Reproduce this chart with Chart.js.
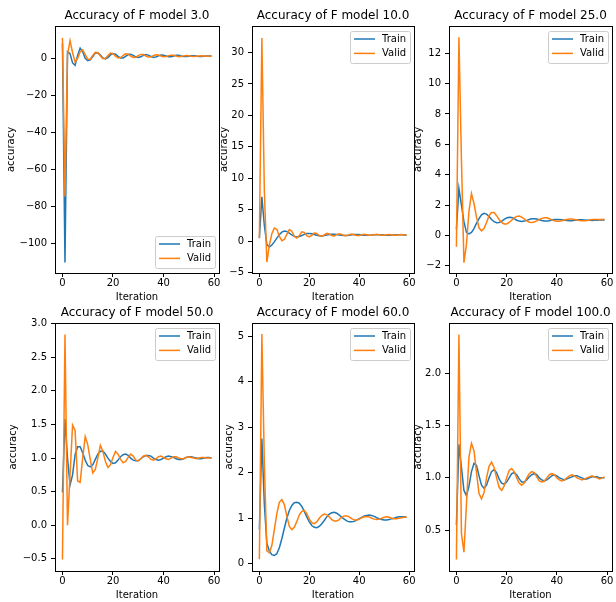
<!DOCTYPE html>
<html>
<head>
<meta charset="utf-8">
<script src="https://cdn.jsdelivr.net/npm/chart.js@4.4.1/dist/chart.umd.min.js"></script>
<style>
  html, body { margin: 0; padding: 0; background: #fff; }
  body { width: 616px; height: 602px; position: relative; overflow: hidden; }
  canvas { position: absolute; }
</style>
</head>
<body>
<script>
// Valores dos modelos e eixos
const models = ['3.0', '10.0', '25.0', '50.0', '60.0', '100.0'];
const iterations = Array.from({ length: 60 }, (_, i) => i);
const xTicks = [0, 20, 40, 60];

// Séries (Train / Valid)
const train3 = [8, -110, 3.5, 2.5, -2.5, -3.8, 1.5, 5.5, 3.5, 0,
  -1.3, -0.8, 1, 2.8, 3, 1.8, 0.2, -0.3, 0.4, 1.8,
  2.6, 2.2, 1.0, 0.2, 0.2, 1.0, 2.0, 2.2, 1.6, 0.7,
  0.4, 0.8, 1.6, 2.0, 1.7, 1.0, 0.6, 0.7, 1.3, 1.8,
  1.7, 1.2, 0.8, 0.8, 1.2, 1.6, 1.6, 1.2, 0.9, 0.9,
  1.1, 1.4, 1.4, 1.2, 0.9, 0.9, 1.1, 1.3, 1.3, 1.2];
const valid3 = [11, -74.5, 2, 9.5, 3, -2, 0, 3.5, 4.5, 2,
  -0.5, -0.5, 1.5, 3.2, 3, 1.2, -0.2, 0, 1.5, 2.8,
  2.5, 1.2, 0.2, 0.4, 1.5, 2.4, 2.2, 1.2, 0.5, 0.6,
  1.4, 2.1, 2.0, 1.2, 0.7, 0.8, 1.4, 1.9, 1.8, 1.2,
  0.8, 0.9, 1.4, 1.7, 1.6, 1.2, 0.9, 1.0, 1.3, 1.5,
  1.4, 1.1, 1.0, 1.1, 1.3, 1.4, 1.3, 1.1, 1.1, 1.2];

const train10 = [0.5, 7.05, 2.5, -0.5, -0.9, -0.6, -0.1, 0.5, 1.05, 1.45,
  1.62, 1.55, 1.3, 1.0, 0.78, 0.7, 0.76, 0.92, 1.1, 1.22,
  1.25, 1.2, 1.08, 0.95, 0.87, 0.85, 0.9, 0.98, 1.07, 1.12,
  1.13, 1.08, 1.01, 0.94, 0.91, 0.92, 0.96, 1.02, 1.06, 1.08,
  1.06, 1.01, 0.97, 0.94, 0.95, 0.98, 1.02, 1.05, 1.05, 1.03,
  0.99, 0.97, 0.97, 0.98, 1.01, 1.03, 1.03, 1.02, 1.0, 0.99];
const valid10 = [0.5, 32.3, 8, -3.3, -0.6, 1.2, 2.1, 1.9, 0.8, 0.1,
  0.3, 1.1, 1.85, 1.6, 0.8, 0.5, 0.9, 1.5, 1.4, 0.9,
  0.7, 0.95, 1.3, 1.25, 0.9, 0.8, 1.0, 1.25, 1.15, 0.9,
  0.85, 1.05, 1.2, 1.1, 0.9, 0.9, 1.05, 1.15, 1.05, 0.92,
  0.93, 1.05, 1.12, 1.03, 0.94, 0.95, 1.05, 1.1, 1.02, 0.95,
  0.96, 1.04, 1.08, 1.02, 0.96, 0.97, 1.03, 1.06, 1.01, 0.98];

const train25 = [0.4, 3.1, 2.0, 0.9, 0.2, 0.1, 0.2, 0.45, 0.8, 1.1,
  1.35, 1.45, 1.4, 1.25, 1.05, 0.9, 0.84, 0.85, 0.93, 1.05,
  1.15, 1.2, 1.18, 1.1, 1.0, 0.94, 0.92, 0.94, 0.99, 1.05,
  1.09, 1.1, 1.08, 1.03, 0.98, 0.95, 0.95, 0.97, 1.01, 1.04,
  1.05, 1.05, 1.03, 1.0, 0.98, 0.97, 0.97, 0.99, 1.01, 1.03,
  1.03, 1.02, 1.0, 0.99, 0.98, 0.99, 1.0, 1.01, 1.02, 1.02];
const valid25 = [-0.75, 13.05, 5.0, -1.8, -0.6, 1.6, 2.75, 2.1, 1.2, 0.5,
  0.3, 0.45, 0.85, 1.3, 1.5, 1.5, 1.3, 1.05, 0.85, 0.75,
  0.75, 0.85, 1.0, 1.15, 1.25, 1.27, 1.2, 1.08, 0.95, 0.87,
  0.85, 0.88, 0.96, 1.05, 1.12, 1.16, 1.16, 1.1, 1.02, 0.96,
  0.93, 0.93, 0.96, 1.01, 1.05, 1.08, 1.08, 1.05, 1.01, 0.98,
  0.96, 0.96, 0.98, 1.01, 1.04, 1.05, 1.05, 1.04, 1.05, 1.06];

const train50 = [0.49, 1.58, 1.0, 0.6, 0.75, 1.05, 1.17, 1.17, 1.08, 0.97,
  0.89, 0.87, 0.9, 0.98, 1.06, 1.1, 1.1, 1.06, 1.0, 0.95,
  0.92, 0.93, 0.97, 1.02, 1.05, 1.06, 1.04, 1.0, 0.97, 0.96,
  0.96, 0.99, 1.02, 1.04, 1.04, 1.03, 1.0, 0.98, 0.97, 0.98,
  1.0, 1.02, 1.03, 1.02, 1.01, 0.99, 0.98, 0.98, 0.99, 1.01,
  1.02, 1.02, 1.01, 1.0, 0.99, 0.99, 1.0, 1.01, 1.01, 1.0];
const valid50 = [-0.51, 2.84, 0.0, 0.75, 1.49, 1.41, 0.66, 0.64, 1.0, 1.32,
  1.2, 0.98, 0.78, 0.83, 1.0, 1.19, 1.1, 0.95, 0.86, 0.9,
  1.01, 1.1, 1.06, 0.98, 0.93, 0.95, 1.01, 1.06, 1.03, 0.97,
  0.96, 0.99, 1.03, 1.04, 1.02, 0.98, 0.97, 0.99, 1.02, 1.03,
  1.01, 0.99, 0.98, 1.0, 1.02, 1.02, 1.0, 0.99, 0.99, 1.01,
  1.02, 1.01, 1.0, 0.99, 1.0, 1.01, 1.01, 1.0, 1.0, 1.0];

const train60 = [0.75, 2.75, 1.3, 0.45, 0.28, 0.2, 0.18, 0.22, 0.35, 0.55,
  0.78, 1.0, 1.17, 1.28, 1.34, 1.35, 1.33, 1.26, 1.15, 1.03,
  0.92, 0.84, 0.8, 0.79, 0.82, 0.88, 0.95, 1.03, 1.09, 1.12,
  1.13, 1.11, 1.07, 1.02, 0.98, 0.94, 0.92, 0.92, 0.93, 0.96,
  0.99, 1.02, 1.05, 1.06, 1.07, 1.06, 1.04, 1.01, 0.99, 0.97,
  0.96, 0.96, 0.97, 0.99, 1.0, 1.02, 1.03, 1.03, 1.03, 1.02];
const valid60 = [0.1, 5.05, 2.2, 0.28, 0.24, 0.4, 0.75, 1.1, 1.35, 1.41,
  1.3, 1.05, 0.82, 0.75, 0.8, 0.93, 1.07, 1.15, 1.17, 1.1,
  0.98, 0.9, 0.88, 0.92, 1.0, 1.06, 1.09, 1.08, 1.03, 0.97,
  0.94, 0.94, 0.97, 1.02, 1.05, 1.05, 1.03, 0.99, 0.96, 0.96,
  0.98, 1.01, 1.03, 1.04, 1.03, 1.0, 0.98, 0.97, 0.98, 1.0,
  1.02, 1.03, 1.02, 1.0, 0.99, 0.99, 1.0, 1.01, 1.02, 1.02];

const train100 = [0.55, 1.32, 1.1, 0.88, 0.83, 0.92, 1.06, 1.14, 1.12, 1.02,
  0.93, 0.9, 0.93, 1.0, 1.06, 1.08, 1.05, 0.99, 0.95, 0.94,
  0.96, 1.0, 1.04, 1.05, 1.03, 0.99, 0.96, 0.96, 0.98, 1.01,
  1.03, 1.04, 1.03, 1.0, 0.98, 0.97, 0.98, 1.0, 1.02, 1.03,
  1.02, 1.0, 0.99, 0.98, 0.99, 1.0, 1.01, 1.02, 1.02, 1.01,
  1.0, 0.99, 0.99, 1.0, 1.01, 1.01, 1.01, 1.0, 1.0, 1.0];
const valid100 = [0.22, 2.37, 0.47, 0.29, 0.75, 1.2, 1.33, 1.26, 1.05, 0.85,
  0.8, 0.86, 1.0, 1.11, 1.15, 1.1, 1.0, 0.91, 0.88, 0.92,
  1.0, 1.07, 1.09, 1.06, 1.0, 0.95, 0.93, 0.95, 1.0, 1.04,
  1.06, 1.05, 1.01, 0.97, 0.96, 0.97, 1.0, 1.03, 1.04, 1.03,
  1.0, 0.98, 0.97, 0.98, 1.0, 1.02, 1.03, 1.02, 1.0, 0.99,
  0.98, 0.99, 1.0, 1.01, 1.02, 1.01, 1.0, 0.99, 1.0, 1.01];

const trainSeries = [train3, train10, train25, train50, train60, train100];
const validSeries = [valid3, valid10, valid25, valid50, valid60, valid100];

// Ticks e limites do eixo y de cada painel
const yTicks = [
  [-100, -80, -60, -40, -20, 0],
  [-5, 0, 5, 10, 15, 20, 25, 30],
  [-2, 0, 2, 4, 6, 8, 10, 12],
  [-0.5, 0, 0.5, 1, 1.5, 2, 2.5, 3],
  [0, 1, 2, 3, 4, 5],
  [0.5, 1, 1.5, 2]
];
const yMins = [-115.7, -5.04, -2.48, -0.68, -0.16, 0.11];
const yMaxs = [17.4, 34.2, 13.8, 3.01, 5.29, 2.48];
const yDecimals = [0, 0, 0, 1, 0, 1];

// Posição de cada painel na página
const cols = [{ l: 55, r: 219 }, { l: 252, r: 414 }, { l: 449, r: 612 }];
const rows = [{ t: 26, b: 273 }, { t: 323, b: 571 }];
const yLabelX = [11, 224, 418, 13, 229, 418];
const legendAt = ['lower', 'upper', 'upper', 'upper', 'upper', 'upper'];

Chart.defaults.font.family = "'DejaVu Sans', sans-serif";
Chart.defaults.color = '#000';

const fmt = (v, dec) => (v < 0 ? '\u2212' : '') + Math.abs(v).toFixed(dec);

// Moldura completa (topo e direita)
const frame = {
  id: 'frame',
  afterDatasetsDraw(chart) {
    const { ctx, chartArea: a } = chart;
    ctx.save();
    ctx.strokeStyle = '#000';
    ctx.lineWidth = 1;
    const x0 = Math.floor(a.left) + 0.5, y0 = Math.floor(a.top) + 0.5;
    const x1 = Math.floor(a.right) + 0.5, y1 = Math.floor(a.bottom) + 0.5;
    ctx.strokeRect(x0, y0, x1 - x0, y1 - y0);
    ctx.restore();
  }
};

// Legenda no estilo do matplotlib
const legendBox = {
  id: 'legendBox',
  afterDraw(chart, args, opts) {
    const { ctx, chartArea: a } = chart;
    const sets = chart.data.datasets;
    ctx.save();
    ctx.font = "10px 'DejaVu Sans'";
    const textW = Math.max(...sets.map(d => ctx.measureText(d.label).width));
    const w = Math.round(32 + textW + 3.5);
    const h = 32;
    const x = Math.floor(a.right) - 4 - w;
    const y = opts.where === 'lower' ? Math.floor(a.bottom) - 5 - h : Math.floor(a.top) + 5;
    ctx.beginPath();
    ctx.roundRect(x + 0.5, y + 0.5, w, h, 2);
    ctx.fillStyle = 'rgba(255,255,255,0.8)';
    ctx.fill();
    ctx.strokeStyle = '#cccccc';
    ctx.lineWidth = 1;
    ctx.stroke();
    sets.forEach((d, i) => {
      const cy = y + 8 + i * 14.4;
      ctx.beginPath();
      ctx.moveTo(x + 4, cy);
      ctx.lineTo(x + 25, cy);
      ctx.strokeStyle = d.borderColor;
      ctx.lineWidth = 1.5;
      ctx.stroke();
      ctx.fillStyle = '#000';
      ctx.textBaseline = 'middle';
      ctx.fillText(d.label, x + 32, cy);
    });
    ctx.restore();
  }
};

function makeChart(k) {
  const col = cols[k % 3], row = rows[Math.floor(k / 3)];
  const padL = col.l - yLabelX[k] + 6;
  const padR = 6, padT = 20, padB = 31;
  const canvas = document.createElement('canvas');
  canvas.width = padL + (col.r - col.l) + padR;
  canvas.height = padT + (row.b - row.t) + padB;
  canvas.style.left = (col.l - padL) + 'px';
  canvas.style.top = (row.t - padT) + 'px';
  document.body.appendChild(canvas);

  new Chart(canvas, {
    type: 'line',
    data: {
      datasets: [
        { label: 'Train', data: iterations.map(i => ({ x: i, y: trainSeries[k][i] })), borderColor: '#1f77b4', order: 1 },
        { label: 'Valid', data: iterations.map(i => ({ x: i, y: validSeries[k][i] })), borderColor: '#ff7f0e', order: 0 }
      ]
    },
    options: {
      responsive: false,
      animation: false,
      layout: { padding: { left: 0, right: padR, top: 0, bottom: 0 } },
      elements: { point: { radius: 0 }, line: { borderWidth: 1.5, tension: 0 } },
      plugins: {
        legend: { display: false },
        tooltip: { enabled: false },
        title: {
          display: true,
          text: 'Accuracy of F model ' + models[k],
          fullSize: false,
          color: '#000',
          font: { size: 12, weight: 'normal', lineHeight: 1.2 },
          padding: { top: 2.8, bottom: 2.8 }
        },
        legendBox: { where: legendAt[k] }
      },
      scales: {
        x: {
          type: 'linear',
          min: -2.95,
          max: 61.95,
          afterBuildTicks: s => { s.ticks = xTicks.map(v => ({ value: v })); },
          afterFit: s => { s.height = padB; },
          ticks: { padding: 0, autoSkip: false, maxRotation: 0, font: { size: 10 }, callback: v => fmt(v, 0) },
          grid: { drawOnChartArea: false, tickLength: 4, color: '#000' },
          border: { color: '#000' },
          title: { display: true, text: 'Iteration', font: { size: 10 }, padding: { top: 0, bottom: 1 } }
        },
        y: {
          min: yMins[k],
          max: yMaxs[k],
          afterBuildTicks: s => { s.ticks = yTicks[k].map(v => ({ value: v })); },
          afterFit: s => { s.width = padL; },
          ticks: { padding: 4, autoSkip: false, font: { size: 10 }, callback: v => fmt(v, yDecimals[k]) },
          grid: { drawOnChartArea: false, tickLength: 4, color: '#000' },
          border: { color: '#000' },
          title: { display: true, text: 'accuracy', font: { size: 10 }, padding: { top: 0, bottom: 0 } }
        }
      }
    },
    plugins: [frame, legendBox]
  });
}

for (let k = 0; k < 6; k++) makeChart(k);
</script>
</body>
</html>
